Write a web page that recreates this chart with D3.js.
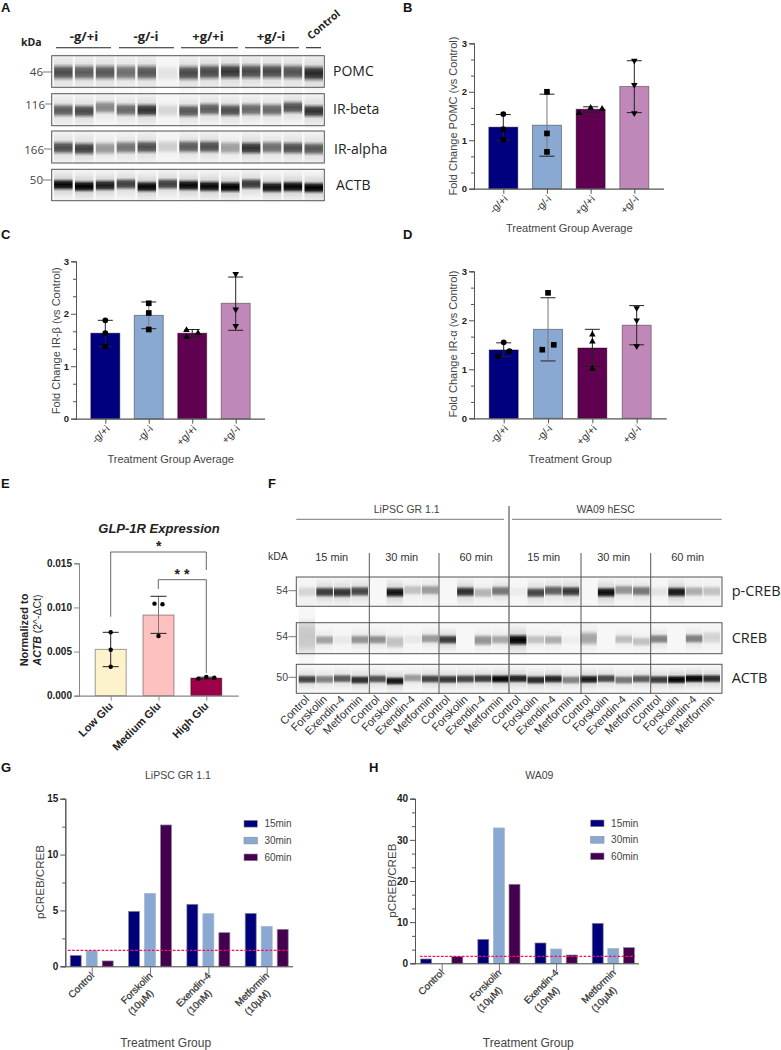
<!DOCTYPE html>
<html><head><meta charset="utf-8">
<style>
html,body{margin:0;padding:0;background:#fff}
svg{display:block}
text{font-family:"Liberation Sans",Arial,sans-serif;fill:#333}
.cal{font-family:"Open Sans","Noto Sans",sans-serif}
</style>
<script src="https://cdn.jsdelivr.net/npm/d3@7"></script>
</head><body>
<svg id="fig" width="781" height="1050"></svg>
<script>
// ---------- data ----------
const groups = ["-g/+i","-g/-i","+g/+i","+g/-i"];
const pomcMean = [1.27,1.31,1.64,2.11];
const pomcHi = [1.53,1.95,1.69,2.64];
const pomcLo = [1.00,0.67,1.58,1.57];
const pomcPts = [[1.54,1.23,1.01],[2.00,1.14,0.76],[1.56,1.67,1.65],[2.64,2.14,1.56]];
const irbMean = [1.63,1.97,1.63,2.20];
const irbHi = [1.875,2.225,1.70,2.70];
const irbLo = [1.37,1.715,1.565,1.685];
const irbPts = [[1.875,1.63,1.38],[2.20,2.015,1.70],[1.56,1.69,1.63],[2.76,2.085,1.77]];
const iraMean = [1.395,1.816,1.435,1.90];
const iraHi = [1.54,2.46,1.816,2.30];
const iraLo = [1.26,1.17,1.06,1.50];
const iraPts = [[1.27,1.37,1.55],[1.40,1.50,2.56],[1.71,1.565,1.01],[2.25,2.00,1.47]];
const glpGroups = ["Low Glu","Medium Glu","High Glu"];
const glpMean = [0.00525,0.00914,0.0020];
const glpHi = [0.00718,0.01126,0.0021];
const glpLo = [0.00329,0.00706,0.0019];
const glpPts = [[0.00718,0.00521,0.00329],[0.01043,0.01035,0.00676],[0.00193,0.00212,0.00204]];
const treatments = [["Control"],["Forskolin","(10µM)"],["Exendin-4","(10nM)"],["Metformin","(10µM)"]];
const times = ["15min","30min","60min"];
const lipscVals = [[0.98,1.40,0.48],[4.92,6.53,12.65],[5.55,4.71,3.01],[4.74,3.58,3.31]];
const wa09Vals = [[1.05,0,1.62],[5.83,32.9,19.2],[4.94,3.48,2.02],[9.72,3.64,3.81]];
const lipscRef = 1.43, wa09Ref = 1.7;
// blots: band strength 0..1 and relative migration of each lane
const blotALanes = ["-g/+i","-g/+i","-g/+i","-g/-i","-g/-i","-g/-i","+g/+i","+g/+i","+g/+i","+g/-i","+g/-i","+g/-i","Control"];
const pomcBand = [.66,.6,.62,.52,.62,.07,.68,.68,.76,.68,.68,.64,.82];
const pomcShift = [0,0,0,0,0,3,2,-1,-2,-2,-2,-1,3];
const irbBand = [.6,.68,.42,.55,.78,.12,.62,.6,.66,.55,.55,.65,.78];
const irbShift = [2,4,-7,0,1,2,4,-2,2,-1,0,-7,4];
const iraBand = [.66,.72,.35,.5,.66,.15,.6,.66,.33,.78,.52,.66,.62];
const iraShift = [2,5,4,1,0,-1,-1,-1,2,3,1,3,5];
const actbABand = [.97,1,.88,.72,.97,.72,.97,.97,1,.75,.92,.98,1];
const actbAShift = [-1,4,1,-3,5,-3,1,4,6,-3,7,5,8];
const blotFLanes = ["Control","Forskolin","Exendin-4","Metformin"];
const pcrebBand = [.12,.75,.78,.7, 0,.92,.2,.35, 0,.8,.25,.5, .04,.7,.6,.76, 0,.95,.38,.5, .07,.9,.28,.2];
const pcrebShift = [0,1,2,-1, 0,2,-5,-5, 0,0,3,-2, 0,3,-3,-1, 0,2,-5,-2, 0,1,-1,-1];
const crebBand = [.3,.32,.05,.38, .4,.15,.05,.36, .76,0,.25,.3, .9,.2,.28,.03, .25,0,.22,.2, .45,0,.46,.1];
const crebShift = [-8,2,2,1, 1,8,0,-2, 1,0,3,1, 2,1,2,2, -3,0,0,7, -1,0,-2,-6];
const crebSpread = [3.6,1,1,1, 1,1.4,1,1, 1,1,1.2,1, 1.2,1,1,1, 1.5,1,1,1, 1,1,1,1.4];
const actbFBand = [.72,.45,.62,.82, .66,.92,.35,.72, .78,.72,.76,1, .86,.84,.86,.45, .9,.7,.5,.62, .76,1,1,.82];
const actbFShift = [0,0,-2,2,-1,5,-4,-1,0,-1,-2,-1,-2,2,-1,2,0,-2,2,-1,1,1,-2,-2];

// ---------- shared ----------
const barColors = ["#00007f","#8aa9d2","#5f0050","#bf88b8"];
const timeColors = ["#00007a","#8aa9d2","#44004f"];
const glpColors = ["#fdf2cc","#ffc0c0","#9c0048"];
const svg = d3.select("#fig");
const defs = svg.append("defs");
const grad = defs.append("linearGradient").attr("id","band").attr("x1",0).attr("x2",0).attr("y1",0).attr("y2",1);
[[0,0],[.14,.35],[.28,.85],[.5,1],[.72,.85],[.86,.35],[1,0]].forEach(([o,a])=>grad.append("stop").attr("offset",o).attr("stop-color","#000").attr("stop-opacity",a));
defs.append("filter").attr("id","soft").attr("x","-20%").attr("width","140%").attr("y","-20%").attr("height","140%")
  .append("feGaussianBlur").attr("stdDeviation","0.6 0.4");

function label(x,y,t,o={}){
  const e=svg.append("text").attr("x",x).attr("y",y).text(t)
    .attr("font-size",o.size||10).attr("text-anchor",o.anchor||"start");
  if(o.weight)e.attr("font-weight",o.weight);
  if(o.italic)e.attr("font-style","italic");
  if(o.cls)e.attr("class",o.cls);
  if(o.rot!==undefined)e.attr("transform",`rotate(${o.rot} ${x} ${y})`);
  if(o.fill)e.style("fill",o.fill);
  return e;
}
function line(x1,y1,x2,y2,c="#444",w=1){
  svg.append("line").attr("x1",x1).attr("y1",y1).attr("x2",x2).attr("y2",y2).attr("stroke",c).attr("stroke-width",w);
}
const shapes=["circle","square","up","down"];
function marker(g,kind,x,y,k=1){
  const type=kind==="circle"?d3.symbolCircle:kind==="square"?d3.symbolSquare:d3.symbolTriangle;
  const size=(kind==="circle"?26:kind==="square"?32:19)*k;
  g.append("path").attr("d",d3.symbol().type(type).size(size)()).attr("fill","#000")
   .attr("transform",`translate(${x},${y})${kind==="down"?" rotate(180)":""}`);
}
// swarm: close values spread sideways in columns, symmetric around the bar centre
function swarm(vals,y,spacing,thr=6){
  const order=vals.map((v,i)=>i).sort((a,b)=>vals[a]-vals[b]);
  const clusters=[];
  order.forEach((i,k)=>{
    if(k&&Math.abs(y(vals[i])-y(vals[order[k-1]]))<thr)clusters[clusters.length-1].push(i);
    else clusters.push([i]);
  });
  const off=new Array(vals.length).fill(0);
  clusters.forEach(c=>{
    const members=c.slice().sort((a,b)=>a-b),cols=[];
    members.forEach(i=>{
      let col=cols.findIndex(cl=>cl.every(j=>Math.abs(y(vals[i])-y(vals[j]))>=thr));
      if(col<0){col=cols.length;cols.push([]);}
      cols[col].push(i);
    });
    cols.forEach((cl,ci)=>cl.forEach(i=>off[i]=(ci-(cols.length-1)/2)*spacing));
  });
  return off;
}
function yAxis(g,y,x,major,minor,fmt,size,color){
  const a=g.append("g").attr("transform",`translate(${x},0)`)
    .call(d3.axisLeft(y).tickValues(major).tickFormat(fmt).tickSize(5).tickPadding(2));
  const m=g.append("g").attr("transform",`translate(${x},0)`)
    .call(d3.axisLeft(y).tickValues(minor).tickFormat("").tickSize(3));
  [a,m].forEach(s=>{s.selectAll("line,path").attr("stroke",color).attr("stroke-width",1);});
  a.selectAll("text").attr("font-size",size).attr("font-weight","bold").style("fill","#222");
}
function barPanel(o){
  const g=svg.append("g");
  const y=d3.scaleLinear().domain([0,o.max]).range([o.y0,o.yTop]);
  const x=d3.scalePoint().domain(o.cats).range(o.cxRange);
  o.cats.forEach((c,i)=>{
    const v=o.mean[i];
    g.append("rect").attr("x",x(c)-o.bw/2).attr("width",o.bw).attr("y",y(v)).attr("height",y(0)-y(v))
      .attr("fill",o.colors[i]).attr("stroke",o.edge||"#000").attr("stroke-opacity",.38).attr("stroke-width",1);
  });
  const ax=g.append("g").attr("transform",`translate(0,${o.y0})`)
    .call(d3.axisBottom(x).tickSize(5).tickFormat(""));
  ax.select("path").attr("d",`M${o.xAxisL},0.5H${o.xAxisR}`).attr("stroke",o.axisColor).attr("stroke-width",1.2);
  ax.selectAll("line").attr("stroke",o.axisColor);
  yAxis(g,y,o.xAxisL,o.major,o.minor,o.fmt,o.tickSize||9.5,o.axisColor);
  o.cats.forEach((c,i)=>{
    const cx=x(c);
    g.append("line").attr("x1",cx).attr("x2",cx).attr("y1",y(o.hi[i])).attr("y2",y(o.lo[i])).attr("stroke",i===1?"#777":"#222").attr("stroke-width",1);
    [o.hi[i],o.lo[i]].forEach(v=>g.append("line").attr("x1",cx-o.cap).attr("x2",cx+o.cap).attr("y1",y(v)).attr("y2",y(v)).attr("stroke","#222").attr("stroke-width",1));
    const off=swarm(o.pts[i],y,o.spacing);
    o.pts[i].forEach((v,k)=>marker(g,o.single?"circle":shapes[i],cx+off[k],y(v),o.mk||1));
  });
  o.cats.forEach(c=>label(x(c)+o.lblDx,o.y0+o.lblDy,c,{size:o.lblSize||10.5,anchor:"end",rot:-45,weight:o.lblWeight,fill:o.lblFill||"#333"}));
  return {x,y};
}
const f0=d3.format("d");
const panels=[
 {cats:groups,mean:pomcMean,hi:pomcHi,lo:pomcLo,pts:pomcPts,y0:188.7,yTop:43.3,cxRange:[503.3,634.3],xAxisL:474,xAxisR:664,title:"Fold Change POMC (vs Control)",tx:457,ty:116,xt:"Treatment Group Average",xtx:569.3,xty:232},
 {cats:groups,mean:irbMean,hi:irbHi,lo:irbLo,pts:irbPts,y0:418.7,yTop:261.3,cxRange:[105.3,235.7],xAxisL:76,xAxisR:265,title:"Fold Change IR-β (vs Control)",tx:60,ty:340.7,xt:"Treatment Group Average",xtx:170.7,xty:462.7},
 {cats:groups,mean:iraMean,hi:iraHi,lo:iraLo,pts:iraPts,y0:418.3,yTop:271.3,cxRange:[503.7,636.7],xAxisL:474,xAxisR:666.7,title:"Fold Change IR-α (vs Control)",tx:457,ty:344,xt:"Treatment Group",xtx:570.3,xty:462.7}
];
panels.forEach(p=>{
  barPanel({...p,max:3,bw:29,colors:barColors,axisColor:"#555",major:[0,1,2,3],minor:[1/3,2/3,4/3,5/3,7/3,8/3],fmt:f0,cap:7.5,spacing:11.5,lblDx:5,lblDy:11});
  label(p.tx,p.ty,p.title,{size:11,anchor:"middle",rot:-90,fill:"#444"});
  label(p.xtx,p.xty,p.xt,{size:11,anchor:"middle",fill:"#444"});
});
// E
barPanel({cats:glpGroups,mean:glpMean,hi:glpHi,lo:glpLo,pts:glpPts,max:0.015,y0:695.7,yTop:563.3,cxRange:[110.7,206.3],xAxisL:79,xAxisR:238.7,bw:31,colors:glpColors,axisColor:"#888",major:[0,.005,.01,.015],minor:[],fmt:d3.format(".3f"),cap:8,spacing:8,mk:.6,single:true,lblDx:3,lblDy:11,lblSize:11,lblWeight:"bold",lblFill:"#222",tickSize:10});
label(159,532.7,"GLP-1R Expression",{size:13,anchor:"middle",weight:"bold",italic:true,fill:"#222"});
label(28,630,"Normalized to",{size:11,anchor:"middle",rot:-90,weight:"bold",fill:"#222"});
{const t=label(41,630,"",{size:10.5,anchor:"middle",rot:-90,fill:"#222"});
 t.append("tspan").attr("font-style","italic").attr("font-weight","bold").text("ACTB");
 t.append("tspan").text(" (2^-ΔCt)");}
[[110.7,616.7,110.7,552],[110.7,552,206.3,552],[206.3,552,206.3,570],[158.3,589,158.3,579.7],[158.3,579.7,206.3,579.7],[206.3,579.7,206.3,673]].forEach(d=>line(...d,"#555",.9));
label(158.7,551,"*",{size:14,anchor:"middle",weight:"bold",fill:"#222"});
label(182,579,"* *",{size:14,anchor:"middle",weight:"bold",fill:"#222"});

// G, H
function groupPanel(o){
  const g=svg.append("g");
  const y=d3.scaleLinear().domain([0,o.max]).range([o.y0,o.yTop]);
  const names=treatments.map(t=>t[0]);
  const x=d3.scalePoint().domain(names).range(o.cxRange);
  const sub=d3.scalePoint().domain(times).range([-o.sub,o.sub]);
  names.forEach((n,i)=>times.forEach((t,j)=>{
    const v=o.vals[i][j]; if(!v)return;
    g.append("rect").attr("x",x(n)+sub(t)-5.5).attr("width",11).attr("y",y(v)).attr("height",y(0)-y(v))
     .attr("fill",timeColors[j]).attr("stroke",j===1?"#a9b6c9":"#8a8a99").attr("stroke-width",.7);
  }));
  const ax=g.append("g").attr("transform",`translate(0,${o.y0})`).call(d3.axisBottom(x).tickSize(8).tickFormat(""));
  ax.select("path").attr("d",`M${o.xAxisL},0.5H${o.xAxisR}`).attr("stroke","#444").attr("stroke-width",1);
  ax.selectAll("line").attr("stroke","#777");
  yAxis(g,y,o.xAxisL,o.major,o.minor,f0,10,"#555");
  g.append("line").attr("x1",o.refX[0]).attr("x2",o.refX[1]).attr("y1",y(o.ref)).attr("y2",y(o.ref))
    .attr("stroke","#ff0a55").attr("stroke-width",1.2).attr("stroke-dasharray","2.6 1.6");
  treatments.forEach(t=>{
    const cx=x(t[0]), yy=o.y0+10;
    const gt=g.append("text").attr("transform",`translate(${cx+3},${yy}) rotate(-45)`).attr("text-anchor","end")
      .attr("font-size",9.8).attr("stroke","#333").attr("stroke-width",.25).style("fill","#333");
    t.forEach((s,k)=>gt.append("tspan").attr("x",k?-11.6:0).attr("dy",k?13:0).text(s));
  });
  const ly=d3.scalePoint().domain(times).range(o.legY);
  times.forEach((t,j)=>{
    g.append("rect").attr("x",o.legX).attr("y",ly(t)-3.3).attr("width",13.3).attr("height",6.7).attr("fill",timeColors[j]).attr("stroke","#889").attr("stroke-width",.6);
    label(o.legX+20.4,ly(t)+3.5,t,{size:10,fill:"#444"});
  });
  label(o.titleX,779,o.title,{size:10.5,anchor:"middle",fill:"#444"});
  label(o.xtX,1047,"Treatment Group",{size:12,anchor:"middle",fill:"#444"});
  label(o.ytX,o.ytY,"pCREB/CREB",{size:11.6,anchor:"middle",rot:-90,fill:"#444"});
}
groupPanel({vals:lipscVals,ref:lipscRef,max:15,y0:966.3,yTop:798.7,cxRange:[91.7,266.7],sub:16,xAxisL:65.3,xAxisR:293,major:[0,5,10,15],minor:[2.5,7.5,12.5],refX:[68,288],legX:244,legY:[823.7,857.3],title:"LiPSC GR 1.1",titleX:178,xtX:165.7,ytX:44,ytY:882});
groupPanel({vals:wa09Vals,ref:wa09Ref,max:40,y0:963.3,yTop:798.7,cxRange:[441.7,613.3],sub:15.6,xAxisL:415,xAxisR:639,major:[0,10,20,30,40],minor:[3.33,6.67,13.33,16.67,23.33,26.67,33.33,36.67],refX:[420,635],legX:590.7,legY:[823.3,856.3],title:"WA09",titleX:539.3,xtX:528.3,ytX:396,ytY:880.6});

// ---------- blots ----------
function blot(o){
  const g=svg.append("g");
  const h=o.y1-o.y0;
  g.append("rect").attr("x",o.x0).attr("y",o.y0).attr("width",o.x1-o.x0).attr("height",h).attr("fill","#f7f7f7");
  o.bands.forEach((v,i)=>{
    if(!v)return;
    const cx=o.scale(i)+o.scale.bandwidth()/2, cy=o.cy+o.shift[i]/3, k=(o.spread?o.spread[i]:1), bh=o.bh*k;
    g.append("rect").attr("x",cx-o.bw/2).attr("width",o.bw).attr("y",cy-bh*1.3).attr("height",bh*2.6)
      .attr("fill","url(#band)").attr("opacity",v*.13).attr("filter","url(#soft)");
    g.append("rect").attr("x",cx-o.bw/2).attr("width",o.bw).attr("y",cy-bh/2).attr("height",bh)
      .attr("fill","url(#band)").attr("opacity",Math.min(1,(k>1?v*1.25/k*1.5:v))).attr("filter","url(#soft)");
  });
  g.append("rect").attr("x",o.x0).attr("y",o.y0).attr("width",o.x1-o.x0).attr("height",h).attr("fill","none").attr("stroke","#555").attr("stroke-width",1);
}
const laneA=d3.scaleBand().domain(d3.range(blotALanes.length)).range([52.9,324.2]).padding(0);
const aBlots=[
 {bands:pomcBand,shift:pomcShift,y0:55.7,y1:87.3,cy:72.3,bh:18,name:"POMC",nx:333,ny:76,kd:"46",kx:43,kb:76,ky:72},
 {bands:irbBand,shift:irbShift,y0:93.7,y1:125.7,cy:109.7,bh:15,name:"IR-beta",nx:333,ny:114,kd:"116",kx:45,kb:109,ky:104},
 {bands:iraBand,shift:iraShift,y0:131,y1:163,cy:147,bh:15,name:"IR-alpha",nx:334,ny:154,kd:"166",kx:44,kb:154,ky:149},
 {bands:actbABand,shift:actbAShift,y0:169.3,y1:200.7,cy:185,bh:13,name:"ACTB",nx:336,ny:190,kd:"50",kx:43,kb:184,ky:180}
];
aBlots.forEach(b=>{
  blot({...b,scale:laneA,x0:51.7,x1:324.3,bw:18.5});
  label(b.nx,b.ny,b.name,{size:14,cls:"cal",fill:"#222"});
  label(b.kx,b.kb,b.kd,{size:11.5,anchor:"end",cls:"cal",fill:"#444"});
  line(b.kx,b.ky,52,b.ky,"#555",.8);
});
label(21,46,"kDa",{size:10.5,weight:"bold",cls:"cal",fill:"#222"});
[["-g/+i",84,56,111],["-g/-i",146,119,174],["+g/+i",208,181,238],["+g/-i",271,245,299]].forEach(([t,c,a,b])=>{
  label(c,41,t,{size:13,anchor:"middle",weight:"bold",cls:"cal",fill:"#222"});
  line(a,47.7,b,47.7,"#222",1.1);
});
line(306,47.7,321,47.7,"#222",1.1);
label(311,40,"Control",{size:10.5,weight:"bold",cls:"cal",rot:-40,fill:"#222"});

const laneF=d3.scaleBand().domain(d3.range(24)).range([298.2,720.5]).padding(0);
[{bands:pcrebBand,shift:pcrebShift,y0:577,y1:606.3,cy:591.7,bh:12,name:"p-CREB",nb:596,kd:"54",ky:590.7},
 {bands:crebBand,shift:crebShift,spread:crebSpread,y0:622.7,y1:653.7,cy:639.3,bh:11,name:"CREB",nb:642.7,kd:"54",ky:636.7},
 {bands:actbFBand,shift:actbFShift,y0:664.3,y1:693.3,cy:679.3,bh:10,name:"ACTB",nb:683,kd:"50",ky:677.3}
].forEach(b=>{
  blot({...b,scale:laneF,x0:296.3,x1:722,bw:16.5});
  label(731.7,b.nb,b.name,{size:14.5,cls:"cal",fill:"#222"});
  label(288,b.ky+3.5,b.kd,{size:10.5,anchor:"end",fill:"#444"});
  line(288.5,b.ky,296.3,b.ky,"#555",.8);
});
[369.3,439,581,650.7].forEach(x=>line(x,553,x,694,"#555",1));
line(509,506,509,694,"#666",1.3);
line(296.3,519.3,504,519.3,"#555",.8); line(512,519.3,721.7,519.3,"#555",.8);
label(406.7,513,"LiPSC GR 1.1",{size:10.5,anchor:"middle",fill:"#444"});
label(605.7,513,"WA09 hESC",{size:10.5,anchor:"middle",fill:"#444"});
label(268,560,"kDA",{size:10.5,fill:"#333"});
[["15 min",331.7],["30 min",401.7],["60 min",476],["15 min",543.7],["30 min",613.7],["60 min",687.7]].forEach(([t,x])=>label(x,561,t,{size:11,anchor:"middle",fill:"#333"}));
d3.range(24).forEach(i=>{
  const cx=laneF(i)+laneF.bandwidth()/2;
  label(cx+3,700,blotFLanes[i%4],{size:11.2,anchor:"end",rot:-45,fill:"#333"});
});

// panel letters
[["A",1,12],["B",403,12],["C",1,239],["D",403,239],["E",1,488],["F",268,488],["G",1,772],["H",369,772]].forEach(([t,x,y])=>
  label(x,y,t,{size:13,weight:"bold",fill:"#111"}));
</script>
</body></html>
